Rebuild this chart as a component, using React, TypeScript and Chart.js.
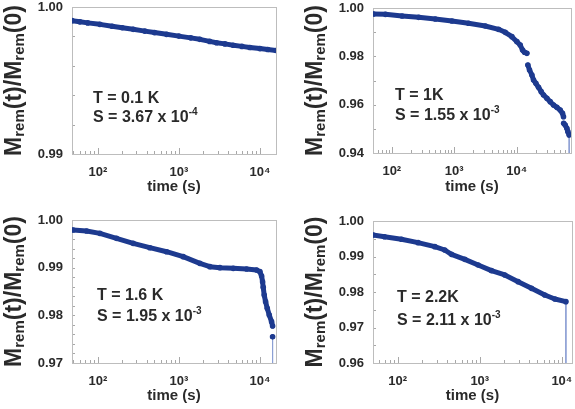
import React, { useEffect, useRef } from 'react';
import { Chart, registerables } from 'chart.js';

Chart.register(...registerables);

const FONT = '"Liberation Sans", Arial, Helvetica, sans-serif';
const DATA_COLOR = '#1d3a8f';
const TEXT_COLOR = '#2a2a2a';

// ---- Panel (a): T = 0.1 K ----
const times01 = [48, 60, 75, 106, 150, 200, 273, 380, 500, 705, 1000, 1400, 1815, 2400, 2915, 3700, 4690, 6000, 7530, 10000, 12500, 15800];
const values01 = [0.99907, 0.99899, 0.99892, 0.99882, 0.99869, 0.99859, 0.99848, 0.99836, 0.99826, 0.99814, 0.99802, 0.9979, 0.9978, 0.99766, 0.99757, 0.99749, 0.9974, 0.99732, 0.99725, 0.99717, 0.99711, 0.99704];

// ---- Panel (b): T = 1 K ----
const times1 = [51, 79, 146, 269, 497, 918, 1690, 3130, 5120, 6550, 8370, 10070, 11380, 12400, 13340, 14550, 14800, 15090, 16040, 17490, 18590, 20260, 22350, 24660, 26880, 30390, 34360, 38850, 43920, 49660, 54130, 56150, 56300, 56500, 59700, 63500, 65900, 69200];
const values1 = [0.99752, 0.99738, 0.99669, 0.99614, 0.99545, 0.99462, 0.99366, 0.99255, 0.99117, 0.98993, 0.98814, 0.98607, 0.98469, 0.98262, 0.98166, 0.98124, null, 0.97641, 0.97434, 0.97228, 0.97021, 0.96883, 0.96717, 0.96538, 0.964, 0.96262, 0.96124, 0.95986, 0.9589, 0.95779, 0.95641, 0.95503, null, 0.95228, 0.95159, 0.95021, 0.94883, 0.94745];

// ---- Panel (c): T = 1.6 K ----
const times16 = [49.5, 72.6, 106, 170, 273, 438, 705, 1130, 1815, 2414, 3210, 4690, 6850, 9100, 10000, 10490, 10790, 10990, 11300, 11750, 12320, 13040, 13930, 14340, 14340, 14340];
const values16 = [0.9979, 0.99769, 0.9972, 0.99615, 0.9951, 0.99419, 0.99335, 0.99231, 0.99091, 0.99021, 0.99, 0.98986, 0.98972, 0.98951, 0.98916, 0.98825, 0.98706, 0.98587, 0.98427, 0.98287, 0.98147, 0.98007, 0.97867, 0.97776, null, 0.97552];

// ---- Panel (d): T = 2.2 K ----
const times22 = [50, 69, 111, 177, 283, 374, 452, 657, 955, 1388, 2018, 2933, 4264, 6200, 8220, 11200];
const values22 = [0.99606, 0.99558, 0.99484, 0.9939, 0.99277, 0.99183, 0.99061, 0.9892, 0.98761, 0.98601, 0.98479, 0.98291, 0.98103, 0.97915, 0.97803, 0.97728];

// ---- Text ----
const tempLabels = ['T = 0.1 K', 'T = 1K', 'T = 1.6 K', 'T = 2.2K'];
const sMantissas = ['3.67', '1.55', '1.95', '2.11'];
const sExponents = ['-4', '-3', '-3', '-3'];
const xTitle = 'time (s)';
const SUP: Record<number, string> = { 1: '¹', 2: '²', 3: '³', 4: '⁴', 5: '⁵' };

type Area = { l: number; t: number; r: number; b: number };
type PanelCfg = {
  left: number; top: number; w: number; h: number; area: Area;
  xMin: number; xMax: number; yMin: number; yMax: number; yStep: number; yMinor: number;
  times: number[]; values: (number | null)[]; drop: boolean;
  idx: number; textDx: number; textDy1: number; textDy2: number;
  labelPad: number; titlePad: number;
};

const panels: PanelCfg[] = [
  { left: 0, top: 0, w: 287, h: 204, area: { l: 72, t: 7, r: 276, b: 154 }, xMin: 48, xMax: 15800, yMin: 0.99, yMax: 1.0, yStep: 0.01, yMinor: 0.002, times: times01, values: values01, drop: false, idx: 0, textDx: 21, textDy1: 96, textDy2: 115, labelPad: 11, titlePad: 8 },
  { left: 287, top: 0, w: 288, h: 204, area: { l: 86, t: 8, r: 284, b: 153 }, xMin: 50, xMax: 74000, yMin: 0.94, yMax: 1.0, yStep: 0.02, yMinor: 0.01, times: times1, values: values1, drop: true, idx: 1, textDx: 22, textDy1: 92, textDy2: 112, labelPad: 11, titlePad: 8 },
  { left: 0, top: 204, w: 287, h: 205, area: { l: 72, t: 16, r: 276, b: 159 }, xMin: 48, xMax: 15800, yMin: 0.97, yMax: 1.0, yStep: 0.01, yMinor: 0.002, times: times16, values: values16, drop: true, idx: 2, textDx: 25, textDy1: 80, textDy2: 101, labelPad: 11, titlePad: 4 },
  { left: 287, top: 204, w: 288, h: 205, area: { l: 86, t: 17, r: 285, b: 159 }, xMin: 50, xMax: 13300, yMin: 0.96, yMax: 1.0, yStep: 0.01, yMinor: 0.005, times: times22, values: values22, drop: true, idx: 3, textDx: 24, textDy1: 81, textDy2: 104, labelPad: 11, titlePad: 4 },
];

type Seg = { t: string; sub?: boolean; sup?: boolean };

function drawRich(ctx: CanvasRenderingContext2D, segs: Seg[], x: number, y: number, size: number, small: number, shift: number, center: boolean) {
  const fMain = `bold ${size}px ${FONT}`;
  const fSmall = `bold ${small}px ${FONT}`;
  let total = 0;
  for (const s of segs) {
    ctx.font = s.sub || s.sup ? fSmall : fMain;
    total += ctx.measureText(s.t).width;
  }
  let cx = center ? x - total / 2 : x;
  ctx.textBaseline = 'alphabetic';
  ctx.textAlign = 'left';
  for (const s of segs) {
    ctx.font = s.sub || s.sup ? fSmall : fMain;
    const dy = s.sub ? shift : s.sup ? -shift : 0;
    ctx.fillText(s.t, cx, y + dy);
    cx += ctx.measureText(s.t).width;
  }
}

function Panel({ cfg }: { cfg: PanelCfg }) {
  const ref = useRef<HTMLCanvasElement>(null);
  useEffect(() => {
    const { area, w, h } = cfg;
    const points = cfg.times.map((t, i) => ({ x: t, y: cfg.values[i] }));
    const datasets: any[] = [
      {
        data: points,
        borderColor: DATA_COLOR,
        backgroundColor: DATA_COLOR,
        borderWidth: 5,
        pointRadius: 2.8,
        pointBorderWidth: 0,
        pointHoverRadius: 0,
        spanGaps: false,
        tension: 0,
        borderCapStyle: 'round',
        borderJoinStyle: 'round',
      },
    ];
    if (cfg.drop) {
      const n = cfg.times.length - 1;
      datasets.push({
        data: [
          { x: cfg.times[n], y: cfg.values[n] },
          { x: cfg.times[n], y: cfg.yMin },
        ],
        borderColor: '#8da0d4',
        borderWidth: 1,
        pointRadius: 0,
        pointHoverRadius: 0,
      });
    }

    const decor = {
      id: 'decor',
      beforeDatasetsDraw(chart: any) {
        const ctx: CanvasRenderingContext2D = chart.ctx;
        const ca = chart.chartArea;
        const xs = chart.scales.x;
        const ys = chart.scales.y;
        ctx.save();
        ctx.strokeStyle = '#a8a8a8';
        ctx.lineWidth = 1;
        // x ticks (inward, bottom)
        const e0 = Math.floor(Math.log10(cfg.xMin));
        const e1 = Math.ceil(Math.log10(cfg.xMax));
        ctx.beginPath();
        for (let e = e0; e <= e1; e++) {
          for (let m = 1; m <= 9; m++) {
            const v = m * Math.pow(10, e);
            if (v < cfg.xMin || v > cfg.xMax) continue;
            const px = Math.round(xs.getPixelForValue(v)) + 0.5;
            const len = m === 1 ? 6 : 3;
            ctx.moveTo(px, ca.bottom);
            ctx.lineTo(px, ca.bottom - len);
          }
        }
        // y ticks (inward, left)
        const nY = Math.round((cfg.yMax - cfg.yMin) / cfg.yMinor);
        for (let k = 0; k <= nY; k++) {
          const v = cfg.yMin + k * cfg.yMinor;
          const py = Math.round(ys.getPixelForValue(v)) + 0.5;
          ctx.moveTo(ca.left, py);
          ctx.lineTo(ca.left + 3, py);
        }
        ctx.stroke();
        // frame
        ctx.strokeStyle = '#bdbdbd';
        ctx.strokeRect(Math.round(ca.left) + 0.5, Math.round(ca.top) + 0.5, Math.round(ca.right - ca.left), Math.round(ca.bottom - ca.top));
        ctx.restore();
      },
      afterDraw(chart: any) {
        const ctx: CanvasRenderingContext2D = chart.ctx;
        const ca = chart.chartArea;
        ctx.save();
        ctx.fillStyle = TEXT_COLOR;
        // y-axis title (rotated, with subscripts)
        ctx.translate(ca.left - 51, (ca.top + ca.bottom) / 2);
        ctx.rotate(-Math.PI / 2);
        drawRich(ctx, [{ t: 'M' }, { t: 'rem', sub: true }, { t: '(t)/M' }, { t: 'rem', sub: true }, { t: '(0)' }], 0, 0, 23, 15, 2.5, true);
        ctx.restore();
        // annotations
        ctx.save();
        ctx.fillStyle = TEXT_COLOR;
        const tx = ca.left + cfg.textDx;
        drawRich(ctx, [{ t: tempLabels[cfg.idx] }], tx, ca.top + cfg.textDy1, 16, 10, 0, false);
        drawRich(ctx, [{ t: `S = ${sMantissas[cfg.idx]} x 10` }, { t: sExponents[cfg.idx], sup: true }], tx, ca.top + cfg.textDy2, 16, 10, 7, false);
        ctx.restore();
      },
    };

    const chart = new Chart(ref.current as HTMLCanvasElement, {
      type: 'line',
      data: { datasets },
      options: {
        animation: false,
        responsive: false,
        devicePixelRatio: 1,
        events: [],
        layout: { padding: { left: 0, top: area.t, right: w - area.r, bottom: 0 } },
        plugins: { legend: { display: false }, tooltip: { enabled: false } },
        scales: {
          x: {
            type: 'logarithmic',
            position: 'bottom',
            min: cfg.xMin,
            max: cfg.xMax,
            grid: { display: false, drawTicks: false },
            border: { display: false },
            ticks: {
              autoSkip: false,
              maxRotation: 0,
              minRotation: 0,
              padding: cfg.labelPad,
              color: TEXT_COLOR,
              font: { family: FONT, size: 13, weight: 'bold' },
              callback: (v: any) => {
                const l = Math.log10(Number(v));
                const r = Math.round(l);
                return Math.abs(l - r) < 1e-6 ? '10' + (SUP[r] || '') : '';
              },
            },
            title: {
              display: true,
              text: xTitle,
              color: TEXT_COLOR,
              font: { family: FONT, size: 15, weight: 'bold' },
              padding: { top: 0, bottom: cfg.titlePad },
            },
            afterFit: (s: any) => {
              s.height = h - area.b;
              s.paddingLeft = 0;
              s.paddingRight = 0;
            },
          },
          y: {
            type: 'linear',
            min: cfg.yMin,
            max: cfg.yMax,
            grid: { display: false, drawTicks: false },
            border: { display: false },
            ticks: {
              stepSize: cfg.yStep,
              padding: 9,
              color: TEXT_COLOR,
              font: { family: FONT, size: 13, weight: 'bold' },
              callback: (v: any) => Number(v).toFixed(2),
            },
            afterFit: (s: any) => {
              s.width = area.l;
              s.paddingTop = 0;
              s.paddingBottom = 0;
            },
          },
        },
      } as any,
      plugins: [decor],
    });
    return () => chart.destroy();
  }, [cfg]);
  return (
    <canvas
      ref={ref}
      width={cfg.w}
      height={cfg.h}
      style={{ position: 'absolute', left: cfg.left, top: cfg.top, width: cfg.w, height: cfg.h }}
    />
  );
}

export default function App() {
  return (
    <div style={{ position: 'absolute', left: 0, top: 0, width: 575, height: 409, background: '#ffffff', overflow: 'hidden' }}>
      {panels.map((p, i) => (
        <Panel key={i} cfg={p} />
      ))}
    </div>
  );
}
